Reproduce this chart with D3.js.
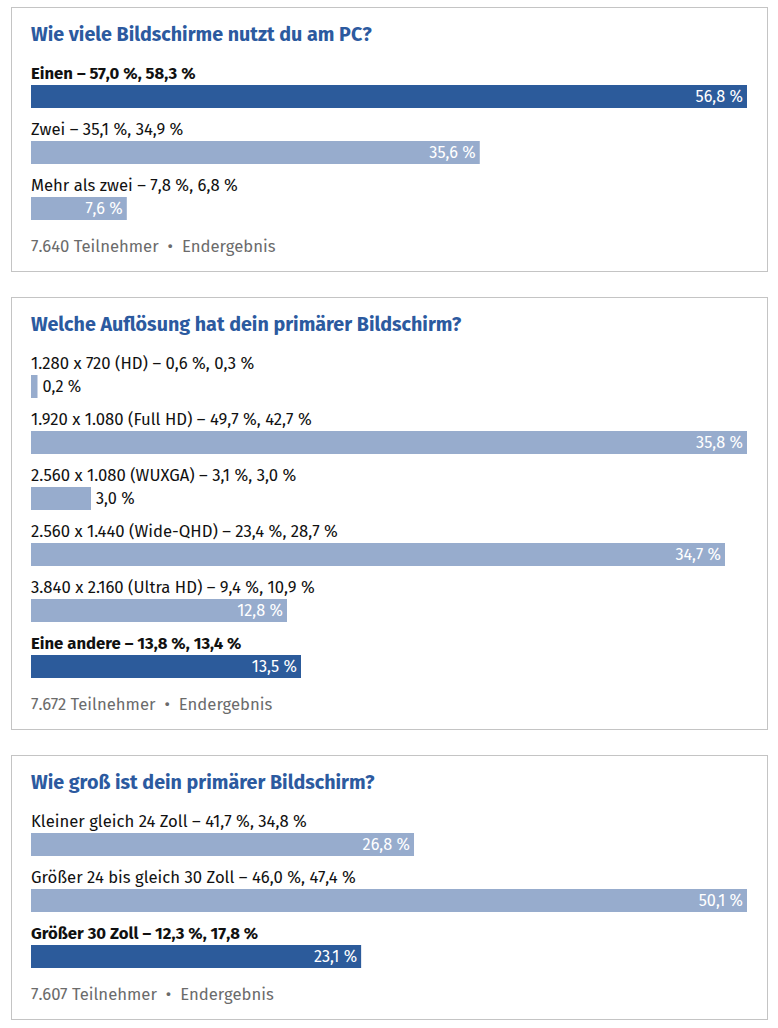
<!DOCTYPE html>
<html><head><meta charset="utf-8">
<script src="https://cdn.jsdelivr.net/npm/d3@7"></script>
<style>
html,body{margin:0;padding:0;background:#fff;}
svg{display:block;font-family:"Fira Sans","Lato","Open Sans",sans-serif;}
</style></head>
<body>
<script>
// ---- data ----
const q1Title = "Wie viele Bildschirme nutzt du am PC?";
const q1Labels = ["Einen", "Zwei", "Mehr als zwei"];
const q1PrevA = [57.0, 35.1, 7.8];
const q1PrevB = [58.3, 34.9, 6.8];
const q1Values = [56.8, 35.6, 7.6];
const q1Highlight = 0;
const q1Participants = 7640;

const q2Title = "Welche Auflösung hat dein primärer Bildschirm?";
const q2Labels = ["1.280 x 720 (HD)", "1.920 x 1.080 (Full HD)", "2.560 x 1.080 (WUXGA)", "2.560 x 1.440 (Wide-QHD)", "3.840 x 2.160 (Ultra HD)", "Eine andere"];
const q2PrevA = [0.6, 49.7, 3.1, 23.4, 9.4, 13.8];
const q2PrevB = [0.3, 42.7, 3.0, 28.7, 10.9, 13.4];
const q2Values = [0.2, 35.8, 3.0, 34.7, 12.8, 13.5];
const q2Highlight = 5;
const q2Participants = 7672;

const q3Title = "Wie groß ist dein primärer Bildschirm?";
const q3Labels = ["Kleiner gleich 24 Zoll", "Größer 24 bis gleich 30 Zoll", "Größer 30 Zoll"];
const q3PrevA = [41.7, 46.0, 12.3];
const q3PrevB = [34.8, 47.4, 17.8];
const q3Values = [26.8, 50.1, 23.1];
const q3Highlight = 2;
const q3Participants = 7607;

const footerStatus = "Endergebnis";

// ---- layout / style ----
const W = 778, H = 1028;
const boxX = 11.5, boxW = 756;
const innerX = 31, innerW = 716;
const rowPitch = 56, barH = 23;
const colDark = "#2c5b9b", colLight = "#97accd", colTitle = "#2c5a9f";

const locale = d3.formatLocale({decimal: ",", thousands: ".", grouping: [3], currency: ["", "€"]});
const pct = v => locale.format(".1f")(v) + " %";
const num = locale.format(",d");

const svg = d3.select("body").append("svg").attr("width", W).attr("height", H);

const panels = [
  {title: q1Title, labels: q1Labels, a: q1PrevA, b: q1PrevB, v: q1Values, hl: q1Highlight, n: q1Participants},
  {title: q2Title, labels: q2Labels, a: q2PrevA, b: q2PrevB, v: q2Values, hl: q2Highlight, n: q2Participants},
  {title: q3Title, labels: q3Labels, a: q3PrevA, b: q3PrevB, v: q3Values, hl: q3Highlight, n: q3Participants}
];

let panelTop = 7;
panels.forEach(p => {
  const nRows = p.labels.length;
  const panelH = 72 + (nRows - 1) * rowPitch + 6 + barH + 32 + 19;
  const g = svg.append("g").attr("transform", `translate(0,${panelTop})`);
  g.append("rect").attr("x", boxX).attr("y", 0.5).attr("width", boxW).attr("height", panelH)
    .attr("fill", "#fff").attr("stroke", "#c4c4c4").attr("stroke-width", 1);
  g.append("text").attr("x", innerX).attr("y", 34).attr("fill", colTitle)
    .attr("font-size", 19.7).attr("font-weight", 700).text(p.title);

  const x = d3.scaleLinear().domain([0, d3.max(p.v)]).range([0, innerW]);
  const y = d3.scaleBand().domain(d3.range(nRows)).range([72, 72 + nRows * rowPitch]).paddingInner(0).paddingOuter(0);

  const rows = g.selectAll("g.row").data(p.labels.map((l, i) => ({l, i, a: p.a[i], b: p.b[i], v: p.v[i]})))
    .join("g").attr("class", "row").attr("transform", d => `translate(0,${y(d.i)})`);

  rows.append("text").attr("x", innerX).attr("y", 0).attr("fill", "#111")
    .attr("font-size", 16.7).attr("font-weight", d => d.i === p.hl ? 700 : 400)
    .text(d => `${d.l} – ${pct(d.a)}, ${pct(d.b)}`);

  const bw = d => Math.max(6.5, x(d.v));
  rows.append("rect").attr("x", innerX).attr("y", 6)
    .attr("width", bw).attr("height", barH)
    .attr("fill", d => d.i === p.hl ? colDark : colLight);

  rows.append("text")
    .attr("x", d => bw(d) < 70 ? innerX + bw(d) + 5 : innerX + bw(d) - 4)
    .attr("y", 6 + barH / 2).attr("dy", "0.36em")
    .attr("text-anchor", d => bw(d) < 70 ? "start" : "end")
    .attr("fill", d => bw(d) < 70 ? "#111" : "#fff")
    .attr("font-size", 16.3)
    .text(d => pct(d.v));

  const footY = 72 + (nRows - 1) * rowPitch + 6 + barH + 32;
  const ft = g.append("text").attr("x", innerX).attr("y", footY).attr("fill", "#6b6b6b").attr("font-size", 16.7);
  ft.append("tspan").text(`${num(p.n)} Teilnehmer`);
  ft.append("tspan").attr("dx", 9).text("•");
  ft.append("tspan").attr("dx", 9).text(footerStatus);

  panelTop += panelH + 26;
});
</script>
</body></html>
